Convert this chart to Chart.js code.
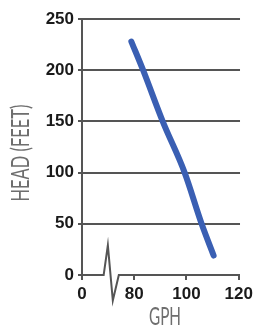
<!DOCTYPE html>
<html>
<head>
<meta charset="utf-8">
<script src="https://cdn.jsdelivr.net/npm/chart.js@4"></script>
<style>
  html, body { margin: 0; padding: 0; background: #fff; }
  #wrap { width: 257px; height: 329px; }
</style>
</head>
<body>
<div id="wrap"><canvas id="pumpChart" width="257" height="329"></canvas></div>
<script>
// pump curve (GPH, feet)
const flowGph = [78.9, 83.4, 90.9, 99.3, 105.8, 110.4];
const headFeet = [228, 200, 150, 100, 50, 19];

// x axis is broken: the first tick stands for 0, the rest are real
const xTicks = [60, 80, 100, 120];
const xTickLabels = ['0', '80', '100', '120'];
const yTicks = [0, 50, 100, 150, 200, 250];

// zigzag axis break along the x axis
const breakX = [60, 68.3, 69.9, 71.8, 74.1, 120.5];
const breakY = [0, 0, 29, -25, 0, 0];

const xTitle = 'GPH';
const yTitle = 'HEAD (FEET)';

const tickFont = { family: '"Liberation Sans", Arial, sans-serif', size: 17, weight: 'bold' };

// axis titles are set in a thin condensed face, so draw them squeezed
const axisTitles = {
    id: 'axisTitles',
    afterDraw(chart) {
        const c = chart.ctx;
        const area = chart.chartArea;
        c.save();
        c.font = '400 25px Lato, "DejaVu Sans", sans-serif';
        c.fillStyle = '#6e6e6e';
        c.textAlign = 'center';
        c.textBaseline = 'middle';

        c.save();
        c.translate((area.left + area.right) / 2 + 4, 317);
        c.scale(32 / c.measureText(xTitle).width, 1);
        c.fillText(xTitle, 0, 0);
        c.restore();

        c.save();
        c.translate(21, (area.top + area.bottom) / 2 + 6);
        c.rotate(-Math.PI / 2);
        c.scale(97 / c.measureText(yTitle).width, 1);
        c.fillText(yTitle, 0, 0);
        c.restore();

        c.restore();
    }
};

function initChart() {
    let ctx = document.getElementById('pumpChart');
    let curve = flowGph.map((x, i) => ({ x: x, y: headFeet[i] }));
    let breakLine = breakX.map((x, i) => ({ x: x, y: breakY[i] }));

    new Chart(ctx, {
        type: 'line',
        data: {
            datasets: [
                {
                    label: 'axis break',
                    data: breakLine,
                    borderColor: '#555555',
                    borderWidth: 2,
                    pointRadius: 0,
                    tension: 0,
                    clip: false
                },
                {
                    label: 'Head',
                    data: curve,
                    borderColor: '#3a5fb3',
                    borderWidth: 6,
                    borderCapStyle: 'round',
                    borderJoinStyle: 'round',
                    pointRadius: 0,
                    cubicInterpolationMode: 'monotone'
                }
            ]
        },
        options: {
            responsive: false,
            animation: false,
            layout: { padding: { top: 19, right: 14, left: 0, bottom: 0 } },
            plugins: { legend: { display: false }, tooltip: { enabled: false } },
            scales: {
                x: {
                    type: 'linear',
                    min: 60,
                    max: 120.5,
                    afterBuildTicks: (scale) => { scale.ticks = xTicks.map(v => ({ value: v })); },
                    afterFit: (scale) => { scale.height = 54; },
                    border: { display: false },
                    grid: { drawOnChartArea: false, tickLength: 5, color: '#555555', lineWidth: 2 },
                    ticks: {
                        color: '#1a1a1a',
                        font: tickFont,
                        padding: 4,
                        maxRotation: 0,
                        callback: (v) => xTickLabels[xTicks.indexOf(v)]
                    }
                },
                y: {
                    min: 0,
                    max: 250,
                    afterBuildTicks: (scale) => { scale.ticks = yTicks.map(v => ({ value: v })); },
                    afterFit: (scale) => { scale.width = 82; },
                    border: { display: true, color: '#555555', width: 2 },
                    grid: {
                        tickLength: 4,
                        lineWidth: 2,
                        color: (c) => c.tick && c.tick.value === 0 ? 'rgba(0,0,0,0)' : '#555555',
                        tickColor: '#555555'
                    },
                    ticks: { color: '#1a1a1a', font: tickFont, padding: 4 }
                }
            }
        },
        plugins: [axisTitles]
    });
}

window.addEventListener('load', initChart);
</script>
</body>
</html>
